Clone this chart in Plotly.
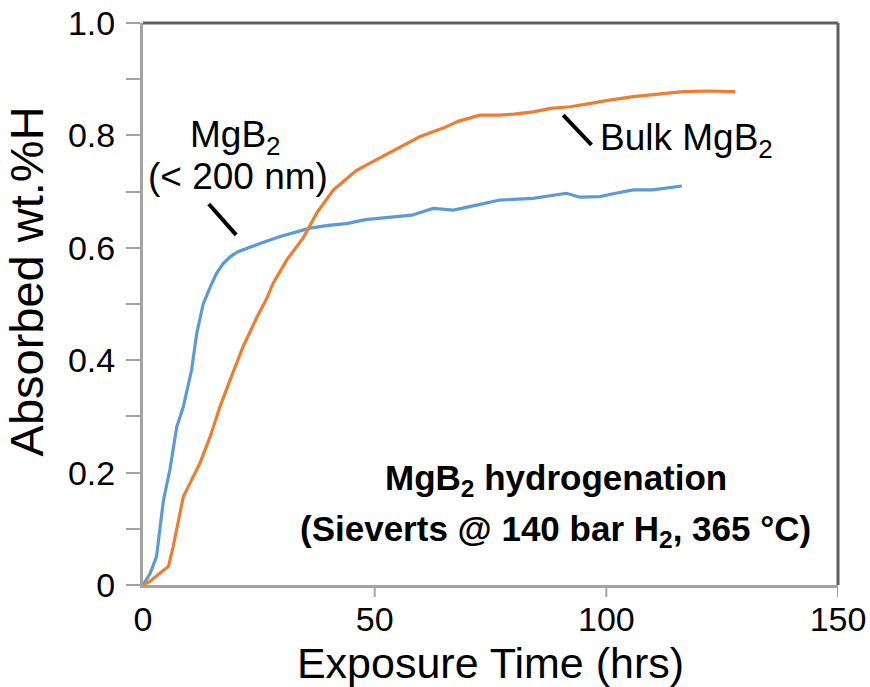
import plotly.graph_objects as go

# Hydrogen uptake vs exposure time
nano_time = [0, 1.5, 2.9, 4.4, 5.8, 7.3, 8.7, 10.5, 11.6, 13.0, 14.5, 15.9, 17.3, 18.8,
             20.5, 22.4, 26, 29.6, 33, 36.0, 40, 43.9, 48, 53.3, 58, 62.6, 67, 72, 77,
             84.2, 88, 91.4, 94.3, 98.6, 102, 105.8, 110, 113, 116.3]
nano_wt = [0, 0.02, 0.05, 0.15, 0.205, 0.282, 0.317, 0.383, 0.448, 0.50, 0.53, 0.555,
           0.572, 0.584, 0.593, 0.599, 0.61, 0.62, 0.628, 0.635, 0.64, 0.643, 0.65, 0.655,
           0.658, 0.67, 0.667, 0.676, 0.685, 0.688, 0.692, 0.697, 0.69, 0.691, 0.697,
           0.703, 0.703, 0.706, 0.71]

bulk_time = [0, 1.4, 3.5, 5.5, 6.5, 7.5, 8.7, 10.5, 12.3, 14.5, 16.6, 18.8, 21.6, 24.5,
             26.7, 28.1, 31, 34.6, 36.0, 37.5, 41.1, 46.1, 50, 53, 56, 59.8, 64.8, 68,
             72.7, 77, 80, 84.2, 88, 92.2, 96, 100, 105.8, 110, 116.6, 122, 127.8]
bulk_wt = [0, 0.006, 0.02, 0.033, 0.068, 0.11, 0.157, 0.187, 0.217, 0.264, 0.317, 0.365,
           0.424, 0.475, 0.51, 0.537, 0.578, 0.618, 0.638, 0.662, 0.703, 0.738, 0.755,
           0.768, 0.782, 0.798, 0.813, 0.825, 0.836, 0.836, 0.838, 0.842, 0.848, 0.851,
           0.856, 0.862, 0.869, 0.873, 0.878, 0.879, 0.878]

x_tickvals = [0, 50, 100, 150]
x_ticktext = ["0", "50", "100", "150"]
y_tickvals = [0, 0.2, 0.4, 0.6, 0.8, 1.0]
y_ticktext = ["0", "0.2", "0.4", "0.6", "0.8", "1.0"]

# Leader lines for the curve labels: (x0, y0, x1, y1)
nano_leader = (14.2, 0.678, 20.1, 0.623)
bulk_leader = (90.7, 0.836, 96.8, 0.783)

FONT = "Liberation Sans, Arial, sans-serif"
BLUE = "#5b9bd5"
ORANGE = "#ed7d31"
AXIS_GRAY = "#a3a3a3"
FRAME_DARK = "#5f5f5f"

fig = go.Figure()
fig.add_trace(go.Scatter(x=nano_time, y=nano_wt, mode="lines",
                         line=dict(color=BLUE, width=3.2), name="MgB2 (< 200 nm)"))
fig.add_trace(go.Scatter(x=bulk_time, y=bulk_wt, mode="lines",
                         line=dict(color=ORANGE, width=3.2), name="Bulk MgB2"))

for x0, y0, x1, y1 in (nano_leader, bulk_leader):
    fig.add_shape(type="line", x0=x0, y0=y0, x1=x1, y1=y1, xref="x", yref="y",
                  line=dict(color="black", width=4))

# x tick marks hanging below the axis (labels sit close under them)
for xv in x_tickvals[1:]:
    fig.add_shape(type="line", xref="x", yref="y domain", x0=xv, x1=xv,
                  ysizemode="pixel", yanchor=0, y0=0, y1=-12,
                  line=dict(color=AXIS_GRAY, width=2))

# darker top and right frame edges
fig.add_shape(type="line", xref="x domain", yref="y domain", x0=0, x1=1, y0=1, y1=1,
              line=dict(color=FRAME_DARK, width=3))
fig.add_shape(type="line", xref="x domain", yref="y domain", x0=1, x1=1, y0=0, y1=1,
              line=dict(color=FRAME_DARK, width=3))

annotations = [
    dict(x=19.9, y=0.797, text="MgB<sub>2</sub>", xanchor="center", yanchor="middle",
         font=dict(size=37)),
    dict(x=20.5, y=0.727, text="(< 200 nm)", xanchor="center", yanchor="middle",
         font=dict(size=37)),
    dict(x=98.2, y=0.791, text="Bulk MgB<sub>2</sub>", xanchor="left", yanchor="middle",
         font=dict(size=37)),
    dict(x=89.1, y=0.186, text="<b>MgB<sub>2</sub> hydrogenation</b>", xanchor="center",
         yanchor="middle", font=dict(size=35)),
    dict(x=89.1, y=0.096, text="<b>(Sieverts @ 140 bar H<sub>2</sub>, 365 °C)</b>",
         xanchor="center", yanchor="middle", font=dict(size=35)),
]
for a in annotations:
    a.update(xref="x", yref="y", showarrow=False)
    a["font"].update(family=FONT, color="black")
    fig.add_annotation(**a)

# y-axis title placed beside the axis
fig.add_annotation(text="Absorbed wt.%H", xref="paper", yref="paper", x=-0.167, y=0.54,
                   textangle=-90, showarrow=False, xanchor="center", yanchor="middle",
                   font=dict(family=FONT, size=47, color="black"))

fig.update_layout(
    width=870, height=687,
    margin=dict(l=143, r=32, t=23, b=102),
    paper_bgcolor="white", plot_bgcolor="white",
    showlegend=False,
    font=dict(family=FONT, color="black"),
)
fig.update_xaxes(
    range=[0, 150], tickvals=x_tickvals, ticktext=x_ticktext,
    showgrid=False, zeroline=False,
    showline=True, linecolor=AXIS_GRAY, linewidth=3,
    ticks="",
    tickfont=dict(size=34, family=FONT, color="black"), ticklabelstandoff=2,
    title=dict(text="Exposure Time (hrs)", font=dict(size=43, family=FONT, color="black"),
               standoff=16),
    automargin=False,
)
fig.update_yaxes(
    range=[0, 1], tickvals=y_tickvals, ticktext=y_ticktext,
    showgrid=False, zeroline=False,
    showline=True, linecolor=AXIS_GRAY, linewidth=3,
    ticks="outside", ticklen=14, tickwidth=2, tickcolor=AXIS_GRAY,
    minor=dict(dtick=0.1, ticks="outside", ticklen=14, tickwidth=2, tickcolor=AXIS_GRAY),
    tickfont=dict(size=34, family=FONT, color="black"), ticklabelstandoff=4,
    automargin=False,
)

fig.write_html("out.html")
